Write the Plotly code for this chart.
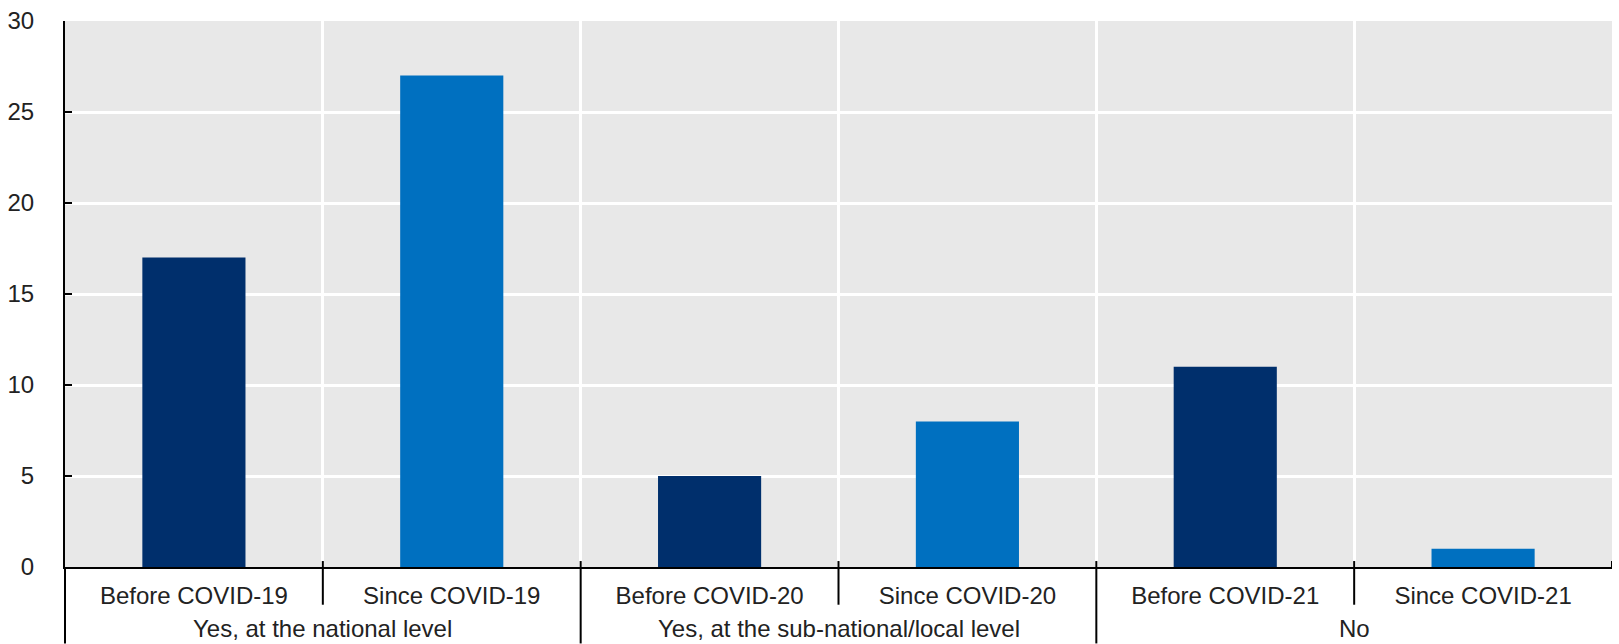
import plotly.graph_objects as go

# Survey responses: count of countries by level and period
groups = ["Yes, at the national level", "Yes, at the sub-national/local level", "No"]
periods = ["Before COVID-19", "Since COVID-19", "Before COVID-20",
           "Since COVID-20", "Before COVID-21", "Since COVID-21"]
values = [17, 27, 5, 8, 11, 1]
bar_colors = ["#002f6c", "#0070c0", "#002f6c", "#0070c0", "#002f6c", "#0070c0"]
y_ticks = [0, 5, 10, 15, 20, 25, 30]

FONT = "Liberation Sans Narrow, Arial Narrow, Liberation Sans, Arial, sans-serif"
FSIZE = 24
W, H = 1619, 644
ML, MR, MT, MB = 60, 7, 17, 77
plot_h = H - MT - MB

fig = go.Figure(
    go.Bar(
        x=periods,
        y=values,
        marker=dict(color=bar_colors, line=dict(width=0)),
        hoverinfo="x+y",
    )
)

def py(px):
    """Convert a pixel offset below the x-axis line into paper units."""
    return -px / plot_h

shapes = []
# y-axis line continued down through the label rows
shapes.append(dict(type="line", xref="paper", yref="paper", x0=0, x1=0,
                   y0=0, y1=py(MB), line=dict(color="black", width=2)))
n = len(periods)
for k in range(1, n + 1):
    xb = k - 0.5
    is_group = (k % 2 == 0) and k < n
    if k == n:
        y_bottom = 0
    elif is_group:
        y_bottom = py(MB)
    else:
        y_bottom = py(38)
    shapes.append(dict(type="line", xref="x", yref="paper", x0=xb, x1=xb,
                       y0=6 / plot_h, y1=y_bottom,
                       line=dict(color="black", width=2)))

annotations = []
for g, name in enumerate(groups):
    annotations.append(dict(
        x=2 * g + 0.5, y=py(62), xref="x", yref="paper",
        text=name, showarrow=False, xanchor="center", yanchor="middle",
        font=dict(family=FONT, size=FSIZE, color="#222"),
    ))

fig.update_layout(
    width=W, height=H,
    margin=dict(l=ML, r=MR, t=MT, b=MB, pad=0),
    paper_bgcolor="white",
    plot_bgcolor="#e8e8e8",
    bargap=0.6,
    showlegend=False,
    font=dict(family=FONT, size=FSIZE, color="#222"),
    shapes=shapes,
    annotations=annotations,
)
fig.update_xaxes(
    type="category",
    range=[-0.5, n - 0.5],
    showline=True, linecolor="black", linewidth=2,
    showgrid=True, gridcolor="white", gridwidth=3,
    tickson="boundaries",
    ticks="",
    ticklabelstandoff=6,
    tickfont=dict(family=FONT, size=FSIZE, color="#222"),
    zeroline=False,
)
fig.update_yaxes(
    range=[0, 30],
    tickvals=y_ticks,
    ticks="inside", ticklen=7, tickwidth=2, tickcolor="black",
    showline=True, linecolor="black", linewidth=2,
    showgrid=True, gridcolor="white", gridwidth=3,
    zeroline=False,
    ticklabelstandoff=24,
    tickfont=dict(family=FONT, size=FSIZE, color="#222"),
)

fig.write_html("out.html")
